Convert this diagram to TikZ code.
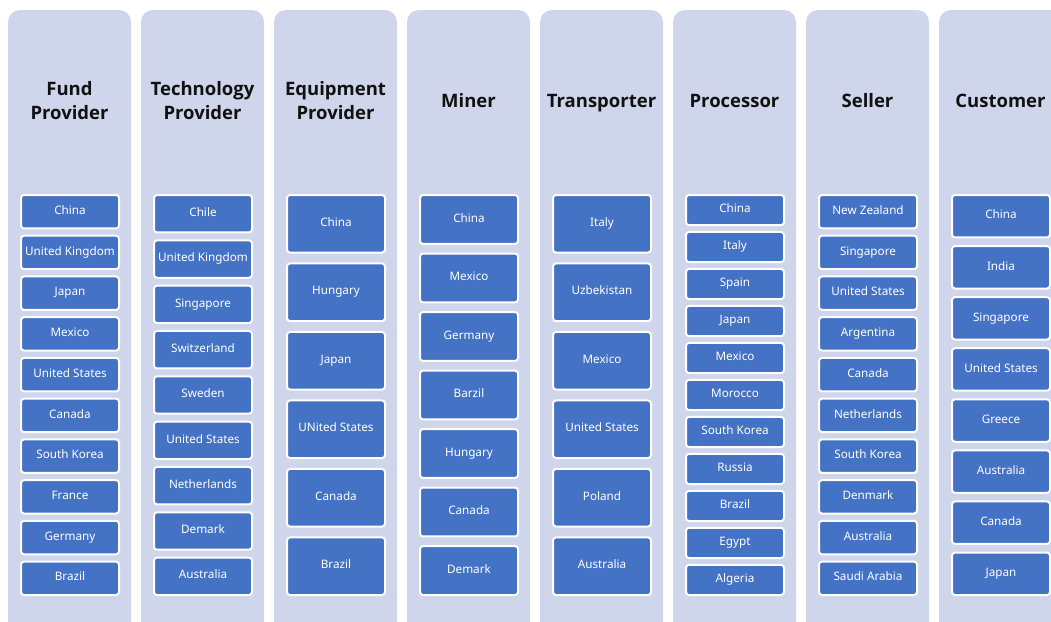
\documentclass[tikz,border=0pt]{standalone}
\usepackage{fontspec}
\setmainfont{Noto Sans}
\newfontfamily\headfont{Open Sans}[BoldFont={* Bold}]
\definecolor{lane}{HTML}{CFD5EA}
\definecolor{cell}{HTML}{4472C4}
\definecolor{ink}{HTML}{111111}
\tikzset{
  lanebg/.style={fill=lane, draw=none, rounded corners=12pt},
  cellbox/.style={fill=cell, draw=white, line width=2pt, rounded corners=3pt,
    minimum width=98pt, inner sep=0pt, text=white,
    text height=8.2pt, text depth=2.8pt,
    font=\fontsize{11.7}{14}\selectfont},
  heading/.style={font=\headfont\fontsize{18.5}{24}\selectfont\bfseries, text=ink,
    align=center, inner sep=0pt, anchor=base}
}
\begin{document}
\begin{tikzpicture}[x=1pt, y=-1pt]
  \useasboundingbox (0,0) rectangle (1051,621);
  \clip (0,0) rectangle (1051,621);
  % one lane per role: left edge / baseline of last heading line / heading / number of entries / entries
  \foreach \lx/\hy/\head/\n/\items [count=\c] in {
    8/119/{Fund\\Provider}/10/{China,United Kingdom,Japan,Mexico,United States,Canada,South Korea,France,Germany,Brazil},
    141/119/{Technology\\Provider}/9/{Chile,United Kingdom,Singapore,Switzerland,Sweden,United States,Netherlands,Demark,Australia},
    274/119/{Equipment\\Provider}/6/{China,Hungary,Japan,UNited States,Canada,Brazil},
    407/107/{Miner}/7/{China,Mexico,Germany,Barzil,Hungary,Canada,Demark},
    540/107/{Transporter}/6/{Italy,Uzbekistan,Mexico,United States,Poland,Australia},
    673/107/{Processor}/11/{China,Italy,Spain,Japan,Mexico,Morocco,South Korea,Russia,Brazil,Egypt,Algeria},
    806/107/{Seller}/10/{New Zealand,Singapore,United States,Argentina,Canada,Netherlands,South Korea,Denmark,Australia,Saudi Arabia},
    939/107/{Customer}/8/{China,India,Singapore,United States,Greece,Australia,Canada,Japan}}{%
    \fill[lanebg] (\lx,10) rectangle ++(123,625);
    \node[heading] (t\c) at (\lx+61.5,\hy) {\head};
    \pgfmathsetmacro\pitch{402/(\n-0.13)}
    \pgfmathsetmacro\cellh{0.87*\pitch-2}
    \foreach \name [count=\r] in \items {
      \node[cellbox, minimum height=\cellh pt] (c\c-\r)
        at (\lx+62, {194+(\r-1)*\pitch+0.5*\cellh+1}) {\name};
    }
  }
\end{tikzpicture}
\end{document}
